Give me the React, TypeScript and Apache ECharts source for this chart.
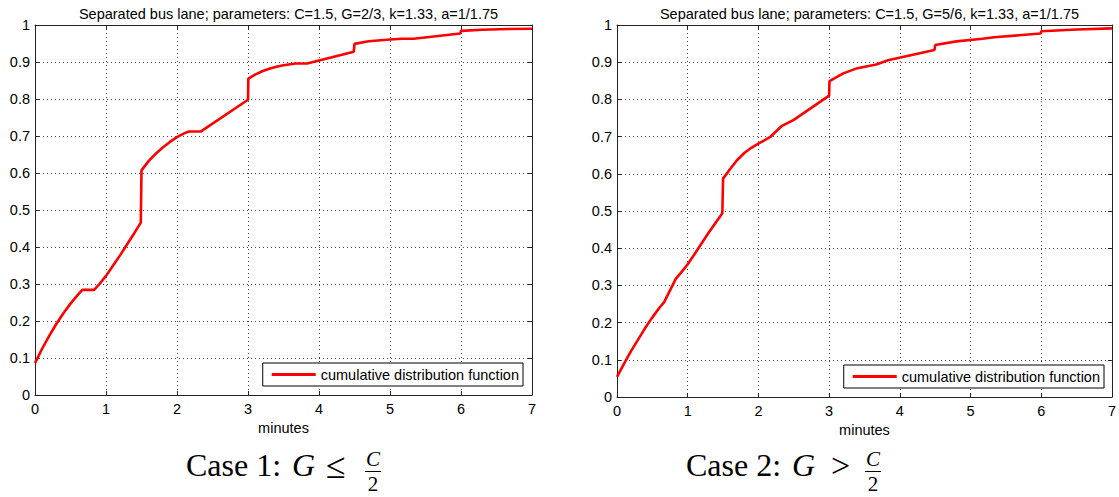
import React, { useEffect, useRef } from "react";
import * as echarts from "echarts";

// ---- data ----
const titles = [
  "Separated bus lane; parameters: C=1.5, G=2/3, k=1.33, a=1/1.75",
  "Separated bus lane; parameters: C=1.5, G=5/6, k=1.33, a=1/1.75",
];
const seriesName = "cumulative distribution function";
const xAxisName = "minutes";

const case1X = [
  0, 0.1, 0.2, 0.3, 0.4, 0.5, 0.6, 0.667, 0.833, 0.9, 1.0, 1.1, 1.2, 1.3, 1.4, 1.49, 1.5,
  1.6, 1.7, 1.8, 1.9, 2.0, 2.1, 2.167, 2.333, 3.0, 3.005, 3.1, 3.2, 3.3, 3.4, 3.5, 3.667,
  3.833, 4.49, 4.5, 4.7, 5.0, 5.167, 5.333, 5.99, 6.0, 6.3, 6.667, 7.0,
];
const case1Y = [
  0.086, 0.125, 0.16, 0.192, 0.221, 0.247, 0.27, 0.284, 0.284, 0.298, 0.322, 0.35, 0.378,
  0.408, 0.438, 0.466, 0.607, 0.632, 0.652, 0.669, 0.684, 0.697, 0.707, 0.712, 0.712, 0.798,
  0.855, 0.866, 0.875, 0.882, 0.887, 0.891, 0.896, 0.896, 0.928, 0.949, 0.956, 0.961, 0.963,
  0.963, 0.977, 0.984, 0.987, 0.989, 0.99,
];

const case2X = [
  0, 0.1, 0.2, 0.3, 0.4, 0.5, 0.6, 0.667, 0.833, 0.9, 1.0, 1.1, 1.2, 1.3, 1.4, 1.49, 1.5,
  1.6, 1.7, 1.8, 1.9, 2.0, 2.167, 2.333, 2.5, 3.0, 3.005, 3.2, 3.4, 3.667, 3.833, 4.49, 4.5,
  4.8, 5.167, 5.333, 5.99, 6.0, 6.5, 7.0,
];
const case2Y = [
  0.054, 0.09, 0.124, 0.155, 0.186, 0.214, 0.24, 0.255, 0.318, 0.333, 0.357, 0.385, 0.414,
  0.443, 0.47, 0.494, 0.587, 0.613, 0.637, 0.656, 0.67, 0.681, 0.699, 0.729, 0.745, 0.81,
  0.849, 0.87, 0.884, 0.894, 0.905, 0.933, 0.946, 0.956, 0.963, 0.967, 0.977, 0.983, 0.988,
  0.991,
];

const SANS = "'Liberation Sans', Arial, Helvetica, sans-serif";
const SERIF = "'Liberation Serif', 'Times New Roman', serif";
const AXIS_COLOR = "#222";
const FS = 14.5;

function makeXAxes(gridIndex: number) {
  const common = {
    type: "value" as const,
    gridIndex,
    min: 0,
    max: 7,
    interval: 1,
    axisLine: { show: true, onZero: false, lineStyle: { color: AXIS_COLOR, width: 1 } },
    axisTick: { show: true, inside: true, length: 4, lineStyle: { color: AXIS_COLOR } },
  };
  return [
    {
      ...common,
      position: "bottom",
      name: xAxisName,
      nameLocation: "middle",
      nameGap: 24,
      nameTextStyle: { color: "#000", fontSize: FS, fontFamily: SANS },
      axisLabel: { color: "#000", fontSize: FS, fontFamily: SANS, margin: 6 },
      splitLine: { show: true, lineStyle: { color: "#444", type: [1, 3], width: 1 } },
    },
    {
      ...common,
      position: "top",
      axisLabel: { show: false },
      splitLine: { show: false },
    },
  ];
}

function makeYAxes(gridIndex: number) {
  const common = {
    type: "value" as const,
    gridIndex,
    min: 0,
    max: 1,
    interval: 0.1,
    axisLine: { show: true, onZero: false, lineStyle: { color: AXIS_COLOR, width: 1 } },
    axisTick: { show: true, inside: true, length: 4, lineStyle: { color: AXIS_COLOR } },
  };
  return [
    {
      ...common,
      position: "left",
      axisLabel: {
        color: "#000",
        fontSize: FS,
        fontFamily: SANS,
        margin: 5,
        formatter: (v: number) => String(+v.toFixed(1)),
      },
      splitLine: { show: true, lineStyle: { color: "#444", type: [1, 3], width: 1 } },
    },
    {
      ...common,
      position: "right",
      axisLabel: { show: false },
      splitLine: { show: false },
    },
  ];
}

function captionGraphics(
  label: string,
  rel: string,
  relSize: number,
  xCase: number,
  xG: number,
  xRel: number,
  xFrac: number
) {
  const yMid = 464.5;
  return [
    {
      type: "text",
      x: xCase,
      y: yMid,
      style: { text: label, font: `32px ${SERIF}`, fill: "#000", align: "left", verticalAlign: "middle" },
    },
    {
      type: "text",
      x: xG,
      y: yMid,
      style: { text: "G", font: `italic 32px ${SERIF}`, fill: "#000", align: "left", verticalAlign: "middle" },
    },
    {
      type: "text",
      x: xRel,
      y: yMid + 1,
      style: { text: rel, font: `${relSize}px ${SERIF}`, fill: "#000", align: "left", verticalAlign: "middle" },
    },
    {
      type: "text",
      x: xFrac,
      y: 459,
      style: { text: "C", font: `italic 21px ${SERIF}`, fill: "#000", align: "center", verticalAlign: "middle" },
    },
    {
      type: "line",
      shape: { x1: xFrac - 8, y1: 471.5, x2: xFrac + 8, y2: 471.5 },
      style: { stroke: "#000", lineWidth: 1 },
    },
    {
      type: "text",
      x: xFrac,
      y: 483.5,
      style: { text: "2", font: `21px ${SERIF}`, fill: "#000", align: "center", verticalAlign: "middle" },
    },
  ];
}

export default function App() {
  const ref = useRef<HTMLDivElement>(null);

  useEffect(() => {
    if (!ref.current) return;
    const chart = echarts.init(ref.current, undefined, { renderer: "svg" });

    const legendCommon = {
      data: [seriesName],
      orient: "horizontal" as const,
      backgroundColor: "#fff",
      borderColor: "#000",
      borderWidth: 1,
      borderRadius: 0,
      padding: [4, 4, 4, 9],
      icon: "rect",
      itemWidth: 44,
      itemHeight: 3,
      selectedMode: false,
      itemStyle: { color: "#ff0000" },
      textStyle: { color: "#000", fontSize: FS, fontFamily: SANS, lineHeight: 14 },
    };

    const titleStyle = { color: "#000", fontSize: FS, fontWeight: "normal", fontFamily: SANS };

    const option: any = {
      animation: false,
      backgroundColor: "#fff",
      title: [
        { text: titles[0], left: 283.5, top: 1, textAlign: "center", textStyle: titleStyle },
        { text: titles[1], left: 864.5, top: 1, textAlign: "center", textStyle: titleStyle },
      ],
      grid: [
        { left: 35, top: 25, width: 497, height: 370, containLabel: false },
        { left: 617, top: 25, width: 495, height: 372, containLabel: false },
      ],
      xAxis: [...makeXAxes(0), ...makeXAxes(1)],
      yAxis: [...makeYAxes(0), ...makeYAxes(1)],
      legend: [
        { ...legendCommon, right: 596, bottom: 111 },
        { ...legendCommon, right: 15, bottom: 109 },
      ],
      series: [
        {
          type: "line",
          name: seriesName,
          xAxisIndex: 0,
          yAxisIndex: 0,
          data: case1X.map((x, i) => [x, case1Y[i]]),
          symbol: "none",
          lineStyle: { color: "#ff0000", width: 2.6 },
          itemStyle: { color: "#ff0000" },
          z: 5,
        },
        {
          type: "line",
          name: seriesName,
          xAxisIndex: 2,
          yAxisIndex: 2,
          data: case2X.map((x, i) => [x, case2Y[i]]),
          symbol: "none",
          lineStyle: { color: "#ff0000", width: 2.6 },
          itemStyle: { color: "#ff0000" },
          z: 5,
        },
      ],
      graphic: [
        ...captionGraphics("Case 1:", "\u2264", 36, 186, 292, 326, 373),
        ...captionGraphics("Case 2:", ">", 34, 686, 792, 831, 873),
      ],
    };

    chart.setOption(option);
    return () => chart.dispose();
  }, []);

  return (
    <div
      ref={ref}
      style={{ position: "absolute", left: 0, top: 0, width: 1119, height: 497 }}
    />
  );
}
